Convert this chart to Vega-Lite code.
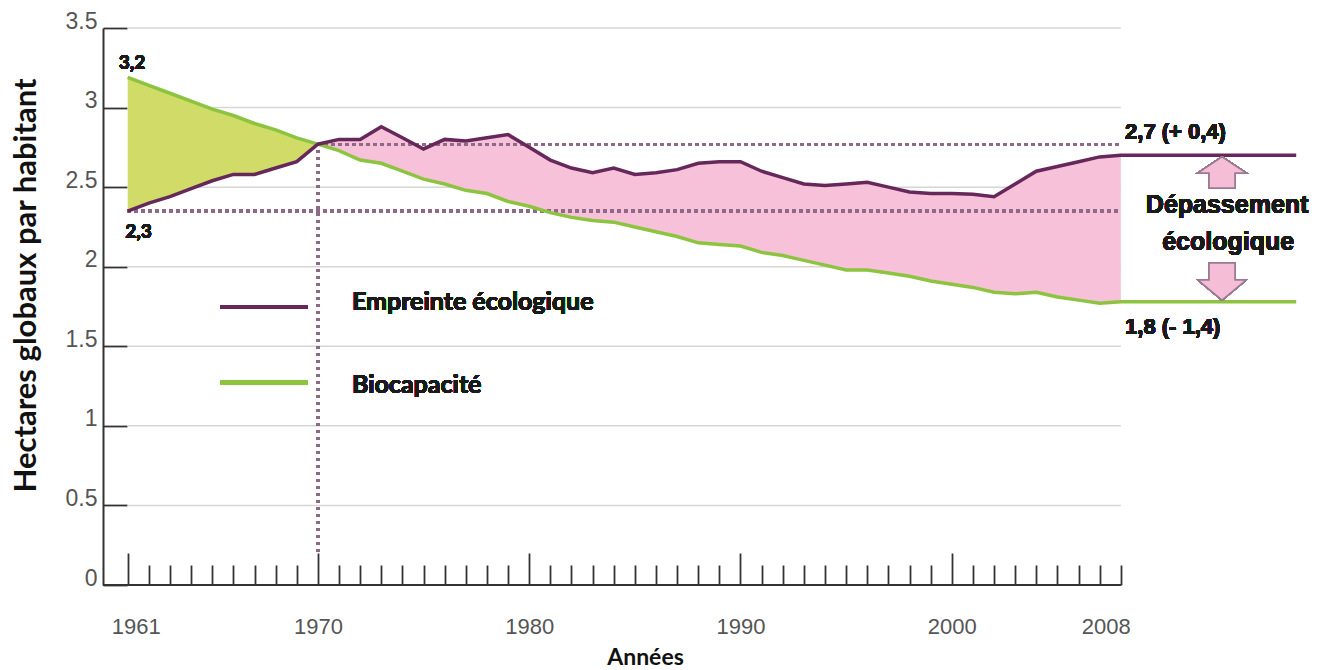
{
  "$schema": "https://vega.github.io/schema/vega-lite/v6.json",
  "width": 1197,
  "height": 557,
  "autosize": {"type": "none"},
  "padding": {"left": 103, "top": 28, "right": 20, "bottom": 85},
  "background": "white",
  "config": {"view": {"stroke": null}},
  "resolve": {"axis": {"x": "independent", "y": "independent"}},
  "data": {
    "values": [
      {"year": 1961, "empreinte": 2.35, "biocapacite": 3.19},
      {"year": 1962, "empreinte": 2.40, "biocapacite": 3.14},
      {"year": 1963, "empreinte": 2.44, "biocapacite": 3.09},
      {"year": 1964, "empreinte": 2.49, "biocapacite": 3.04},
      {"year": 1965, "empreinte": 2.54, "biocapacite": 2.99},
      {"year": 1966, "empreinte": 2.58, "biocapacite": 2.95},
      {"year": 1967, "empreinte": 2.58, "biocapacite": 2.90},
      {"year": 1968, "empreinte": 2.62, "biocapacite": 2.86},
      {"year": 1969, "empreinte": 2.66, "biocapacite": 2.81},
      {"year": 1970, "empreinte": 2.77, "biocapacite": 2.77},
      {"year": 1971, "empreinte": 2.80, "biocapacite": 2.73},
      {"year": 1972, "empreinte": 2.80, "biocapacite": 2.67},
      {"year": 1973, "empreinte": 2.88, "biocapacite": 2.65},
      {"year": 1974, "empreinte": 2.81, "biocapacite": 2.60},
      {"year": 1975, "empreinte": 2.74, "biocapacite": 2.55},
      {"year": 1976, "empreinte": 2.80, "biocapacite": 2.52},
      {"year": 1977, "empreinte": 2.79, "biocapacite": 2.48},
      {"year": 1978, "empreinte": 2.81, "biocapacite": 2.46},
      {"year": 1979, "empreinte": 2.83, "biocapacite": 2.41},
      {"year": 1980, "empreinte": 2.75, "biocapacite": 2.38},
      {"year": 1981, "empreinte": 2.67, "biocapacite": 2.34},
      {"year": 1982, "empreinte": 2.62, "biocapacite": 2.31},
      {"year": 1983, "empreinte": 2.59, "biocapacite": 2.29},
      {"year": 1984, "empreinte": 2.62, "biocapacite": 2.28},
      {"year": 1985, "empreinte": 2.58, "biocapacite": 2.25},
      {"year": 1986, "empreinte": 2.59, "biocapacite": 2.22},
      {"year": 1987, "empreinte": 2.61, "biocapacite": 2.19},
      {"year": 1988, "empreinte": 2.65, "biocapacite": 2.15},
      {"year": 1989, "empreinte": 2.66, "biocapacite": 2.14},
      {"year": 1990, "empreinte": 2.66, "biocapacite": 2.13},
      {"year": 1991, "empreinte": 2.60, "biocapacite": 2.09},
      {"year": 1992, "empreinte": 2.56, "biocapacite": 2.07},
      {"year": 1993, "empreinte": 2.52, "biocapacite": 2.04},
      {"year": 1994, "empreinte": 2.51, "biocapacite": 2.01},
      {"year": 1995, "empreinte": 2.52, "biocapacite": 1.98},
      {"year": 1996, "empreinte": 2.53, "biocapacite": 1.98},
      {"year": 1997, "empreinte": 2.50, "biocapacite": 1.96},
      {"year": 1998, "empreinte": 2.47, "biocapacite": 1.94},
      {"year": 1999, "empreinte": 2.46, "biocapacite": 1.91},
      {"year": 2000, "empreinte": 2.46, "biocapacite": 1.89},
      {"year": 2001, "empreinte": 2.455, "biocapacite": 1.87},
      {"year": 2002, "empreinte": 2.44, "biocapacite": 1.84},
      {"year": 2003, "empreinte": 2.52, "biocapacite": 1.83},
      {"year": 2004, "empreinte": 2.60, "biocapacite": 1.84},
      {"year": 2005, "empreinte": 2.63, "biocapacite": 1.81},
      {"year": 2006, "empreinte": 2.66, "biocapacite": 1.79},
      {"year": 2007, "empreinte": 2.69, "biocapacite": 1.77},
      {"year": 2008, "empreinte": 2.70, "biocapacite": 1.78},
      {"year": 2016.3, "empreinte": 2.70, "biocapacite": 1.78}
    ]
  },
  "layer": [
    {
      "mark": {"type": "line", "color": "#6b2d5f", "strokeWidth": 0, "opacity": 0},
      "encoding": {
        "x": {
          "field": "year",
          "type": "quantitative",
          "scale": {"domain": [1959.83, 2016.48], "nice": false, "zero": false},
          "axis": {
            "values": [1961, 1962, 1963, 1964, 1965, 1966, 1967, 1968, 1969, 1970, 1971, 1972, 1973, 1974, 1975, 1976, 1977, 1978, 1979, 1980, 1981, 1982, 1983, 1984, 1985, 1986, 1987, 1988, 1989, 1990, 1991, 1992, 1993, 1994, 1995, 1996, 1997, 1998, 1999, 2000, 2001, 2002, 2003, 2004, 2005, 2006, 2007, 2008],
            "format": "d",
            "orient": "bottom",
            "domain": false,
            "grid": false,
            "tickColor": "#333333",
            "tickWidth": 1.8,
            "tickSize": {"expr": "indexof([1961,1970,1980,1990,2000], datum.value) >= 0 ? -32 : -20"},
            "labelExpr": "indexof([1961,1970,1980,1990,2000,2008], datum.value) >= 0 ? datum.label : ''",
            "labelFont": "Liberation Sans",
            "labelFontSize": 22,
            "labelColor": "#555555",
            "labelBaseline": "middle",
            "labelPadding": {"expr": "datum.value == 2008 ? 61 : 73"},
            "labelOffset": {"expr": "datum.value == 2008 ? -15 : (datum.value == 1961 ? 8 : 0)"},
            "labelFlush": false,
            "labelOverlap": false,
            "title": "Années",
            "titleFont": "Lato",
            "titleFontWeight": "bold",
            "titleFontSize": 23,
            "titleColor": "#111111",
            "titleX": 542,
            "titleY": 72,
            "titleBaseline": "middle",
            "titleAlign": "center"
          }
        },
        "y": {
          "field": "empreinte",
          "type": "quantitative",
          "scale": {"domain": [0, 3.5], "nice": false, "zero": true},
          "axis": {
            "values": [0, 0.5, 1, 1.5, 2, 2.5, 3, 3.5],
            "format": "~g",
            "orient": "left",
            "domain": true,
            "domainColor": "#333333",
            "domainWidth": 2,
            "grid": false,
            "tickSize": -24,
            "tickColor": "#333333",
            "tickWidth": 1.8,
            "labelFont": "Liberation Sans",
            "labelFontSize": 23,
            "labelColor": "#555555",
            "labelBaseline": "alphabetic",
            "labelPadding": 30,
            "title": "Hectares globaux par habitant",
            "titleFont": "Lato",
            "titleFontWeight": "bold",
            "titleFontSize": 31,
            "titleColor": "#111111",
            "titleX": -77,
            "titleY": 257,
            "titleAngle": -90,
            "titleBaseline": "middle",
            "titleAlign": "center"
          }
        }
      }
    },
    {
      "data": {"values": [{"g": 0.5}, {"g": 1}, {"g": 1.5}, {"g": 2}, {"g": 2.5}, {"g": 3}, {"g": 3.5}]},
      "mark": {"type": "rule", "color": "#d6d6d6", "strokeWidth": 1.5},
      "encoding": {
        "x": {"datum": 1961, "type": "quantitative", "axis": null},
        "x2": {"datum": 2008},
        "y": {"field": "g", "type": "quantitative", "axis": null}
      }
    },
    {
      "transform": [{"filter": "datum.year <= 1970"}],
      "mark": {"type": "area", "color": "#d0dc67", "opacity": 1},
      "encoding": {
        "x": {"field": "year", "type": "quantitative", "axis": null},
        "y": {"field": "biocapacite", "type": "quantitative", "axis": null},
        "y2": {"field": "empreinte"}
      }
    },
    {
      "transform": [{"filter": "datum.year >= 1970 && datum.year <= 2008"}],
      "mark": {"type": "area", "color": "#f6c1d9", "opacity": 1},
      "encoding": {
        "x": {"field": "year", "type": "quantitative", "axis": null},
        "y": {"field": "biocapacite", "type": "quantitative", "axis": null},
        "y2": {"field": "empreinte"}
      }
    },
    {
      "mark": {"type": "rule", "color": "#8e6a88", "strokeWidth": 2.5, "strokeDash": [2.5, 4.5]},
      "encoding": {
        "x": {"datum": 1961, "type": "quantitative", "axis": null},
        "x2": {"datum": 2008},
        "y": {"datum": 2.35, "type": "quantitative", "axis": null}
      }
    },
    {
      "mark": {"type": "rule", "color": "#8e6a88", "strokeWidth": 2.5, "strokeDash": [2.5, 4.5]},
      "encoding": {
        "x": {"datum": 1970, "type": "quantitative", "axis": null},
        "x2": {"datum": 2008},
        "y": {"datum": 2.77, "type": "quantitative", "axis": null}
      }
    },
    {
      "mark": {"type": "rule", "color": "#8e6a88", "strokeWidth": 2.5, "strokeDash": [2.5, 4.5]},
      "encoding": {
        "x": {"datum": 1970, "type": "quantitative", "axis": null},
        "y": {"datum": 0.21, "type": "quantitative", "axis": null},
        "y2": {"datum": 2.77}
      }
    },
    {
      "mark": {"type": "rule", "color": "#333333", "strokeWidth": 2},
      "encoding": {
        "x": {"datum": 1959.83, "type": "quantitative", "axis": null},
        "x2": {"datum": 2008},
        "y": {"datum": 0, "type": "quantitative", "axis": null}
      }
    },
    {
      "mark": {"type": "line", "color": "#8dc43f", "strokeWidth": 3.5},
      "encoding": {
        "x": {"field": "year", "type": "quantitative", "axis": null},
        "y": {"field": "biocapacite", "type": "quantitative", "axis": null}
      }
    },
    {
      "mark": {"type": "line", "color": "#66285a", "strokeWidth": 3.5},
      "encoding": {
        "x": {"field": "year", "type": "quantitative", "axis": null},
        "y": {"field": "empreinte", "type": "quantitative", "axis": null}
      }
    },
    {
      "mark": {"type": "rule", "color": "#66285a", "strokeWidth": 4},
      "encoding": {
        "x": {"datum": 1965.37, "type": "quantitative", "axis": null},
        "x2": {"datum": 1969.53},
        "y": {"datum": 1.747, "type": "quantitative", "axis": null}
      }
    },
    {
      "mark": {"type": "rule", "color": "#8dc43f", "strokeWidth": 4},
      "encoding": {
        "x": {"datum": 1965.37, "type": "quantitative", "axis": null},
        "x2": {"datum": 1969.53},
        "y": {"datum": 1.271, "type": "quantitative", "axis": null}
      }
    },
    {
      "mark": {"type": "text", "text": "Empreinte écologique", "font": "Lato", "fontWeight": "bold", "fontSize": 25, "align": "left", "baseline": "middle", "color": "#1a1a1a"},
      "encoding": {"x": {"datum": 1971.61, "type": "quantitative", "axis": null}, "y": {"datum": 1.778, "type": "quantitative", "axis": null}}
    },
    {
      "mark": {"type": "text", "text": "Biocapacité", "font": "Lato", "fontWeight": "bold", "fontSize": 25, "align": "left", "baseline": "middle", "color": "#1a1a1a"},
      "encoding": {"x": {"datum": 1971.61, "type": "quantitative", "axis": null}, "y": {"datum": 1.257, "type": "quantitative", "axis": null}}
    },
    {
      "mark": {"type": "text", "text": "3,2", "font": "Lato", "fontWeight": "bold", "fontSize": 19, "align": "center", "baseline": "middle", "color": "#1a1a1a"},
      "encoding": {"x": {"datum": 1961.2, "type": "quantitative", "axis": null}, "y": {"datum": 3.277, "type": "quantitative", "axis": null}}
    },
    {
      "mark": {"type": "text", "text": "2,3", "font": "Lato", "fontWeight": "bold", "fontSize": 19, "align": "center", "baseline": "middle", "color": "#1a1a1a"},
      "encoding": {"x": {"datum": 1961.51, "type": "quantitative", "axis": null}, "y": {"datum": 2.215, "type": "quantitative", "axis": null}}
    },
    {
      "mark": {"type": "text", "text": "2,7 (+ 0,4)", "font": "Liberation Sans", "fontWeight": "bold", "fontSize": 22, "align": "left", "baseline": "middle", "color": "#1a1a1a"},
      "encoding": {"x": {"datum": 2008.2, "type": "quantitative", "axis": null}, "y": {"datum": 2.847, "type": "quantitative", "axis": null}}
    },
    {
      "mark": {"type": "text", "text": "1,8 (- 1,4)", "font": "Liberation Sans", "fontWeight": "bold", "fontSize": 22, "align": "left", "baseline": "middle", "color": "#1a1a1a"},
      "encoding": {"x": {"datum": 2008.2, "type": "quantitative", "axis": null}, "y": {"datum": 1.621, "type": "quantitative", "axis": null}}
    },
    {
      "mark": {"type": "text", "text": "Dépassement", "font": "Liberation Sans", "fontWeight": "bold", "fontSize": 25, "align": "center", "baseline": "middle", "color": "#1a1a1a"},
      "encoding": {"x": {"datum": 2013.03, "type": "quantitative", "axis": null}, "y": {"datum": 2.388, "type": "quantitative", "axis": null}}
    },
    {
      "mark": {"type": "text", "text": "écologique", "font": "Liberation Sans", "fontWeight": "bold", "fontSize": 25, "align": "center", "baseline": "middle", "color": "#1a1a1a"},
      "encoding": {"x": {"datum": 2013.08, "type": "quantitative", "axis": null}, "y": {"datum": 2.155, "type": "quantitative", "axis": null}}
    },
    {
      "mark": {"type": "point", "shape": "M0,-0.646L1,0.02L0.54,0.02L0.54,0.646L-0.54,0.646L-0.54,0.02L-1,0.02Z", "size": 2304, "filled": true, "fill": "#f5bdd6", "stroke": "#9a7a94", "strokeWidth": 1.5, "opacity": 1},
      "encoding": {"x": {"datum": 2012.79, "type": "quantitative", "axis": null}, "y": {"datum": 2.592, "type": "quantitative", "axis": null}}
    },
    {
      "mark": {"type": "point", "shape": "M-0.54,-0.771L0.54,-0.771L0.54,-0.0625L1,-0.0625L0,0.771L-1,-0.0625L-0.54,-0.0625Z", "size": 2304, "filled": true, "fill": "#f5bdd6", "stroke": "#9a7a94", "strokeWidth": 1.5, "opacity": 1},
      "encoding": {"x": {"datum": 2012.79, "type": "quantitative", "axis": null}, "y": {"datum": 1.907, "type": "quantitative", "axis": null}}
    }
  ]
}
